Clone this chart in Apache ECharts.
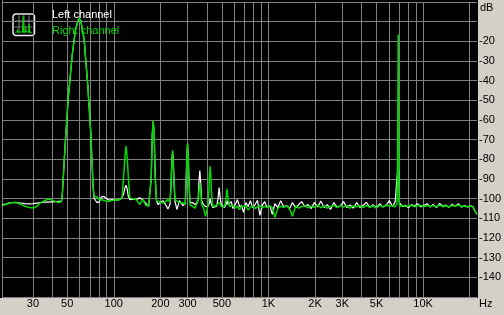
<!DOCTYPE html>
<html>
<head>
<meta charset="utf-8">
<script src="https://cdn.jsdelivr.net/npm/echarts@6/dist/echarts.min.js"></script>
<style>
html,body{margin:0;padding:0;background:#d4d0c8;}
#chart{width:504px;height:315px;}
</style>
</head>
<body>
<div id="chart"></div>
<script>
// Frequencies (Hz) shared by both channels
const freqs = [
  18.94, 20, 21.3, 23, 25, 26.6, 28.5, 30, 31.7, 33.4, 35.5, 37.5, 39.5, 41.7, 44, 45.8,
  46.4, 48.3, 50.7, 53.8, 56.6, 59.5, 61.2, 64.3, 67.7, 71, 73.5, 74.6, 76, 78, 80.5, 83,
  86, 89, 93, 98, 103, 109, 113, 116, 118, 120, 122, 124, 127, 133, 140, 147,
  154, 162, 168, 172, 174.5, 177.5, 180, 182.5, 185.5, 189, 193, 200, 208, 216, 224, 231,
  235, 237.5, 240, 242.5, 245, 249, 256, 266, 280, 290, 294, 297, 300, 303, 306, 311,
  322, 335, 345, 351, 355, 360, 365, 370, 380, 392, 405, 412, 416, 420, 424, 428,
  436, 448, 462, 472, 480, 488, 496, 508, 520, 532, 540, 548, 560, 575, 590, 610,
  630, 650, 670, 690, 715, 740, 765, 790, 820, 850, 880, 910, 945, 980, 1020, 1060,
  1100, 1150, 1200, 1250, 1310, 1370, 1430, 1500, 1570, 1640, 1720, 1800, 1890, 1980, 2080, 2180,
  2290, 2400, 2520, 2650, 2780, 2920, 3060, 3210, 3370, 3540, 3720, 3900, 4100, 4300, 4520, 4740,
  4980, 5230, 5490, 5760, 6050, 6350, 6600, 6780, 6830, 6900, 6970, 7020, 7100, 7400, 7700, 8050,
  8400, 8800, 9200, 9650, 10100, 10600, 11100, 11600, 12200, 12800, 13400, 14000, 14700, 15400, 16100, 16900,
  17700, 18500, 19400, 20300, 21000, 21500, 22300
];
// Left channel (white), dB
const leftDb = [
  -103, -102.8, -102, -102, -102.2, -102.5, -102.6, -102.5, -102.3, -102, -101.8, -101.8, -101.6, -101.5, -101.4, -101.4,
  -99, -75, -49.5, -27.4, -13.8, -8.3, -9.5, -18.9, -41, -66.3, -93.7, -99.5, -100.8, -102, -101.6, -99.2,
  -98.8, -99.8, -100.7, -100.5, -100.8, -100.5, -99.5, -97.5, -94.5, -93.2, -95, -98.5, -100.5, -100.3, -100.5, -99.6,
  -100.5, -102.5, -103.9, -103.5, -90, -67, -60.6, -67, -90, -101, -103, -102, -101, -103, -105.2, -103,
  -92, -80, -76, -80, -92, -101.5, -105.5, -101, -103.5, -102.5, -90, -78, -72.1, -78, -90, -102,
  -102, -103, -104, -101, -92, -85.7, -92, -101, -103, -104, -104, -103, -102, -100, -102, -103,
  -104.5, -104, -104, -100, -94.4, -100, -103, -103, -104.5, -103, -101, -103, -103, -101.5, -105, -103,
  -100.5, -104, -103.5, -107, -102, -104, -101, -104.5, -103, -100.8, -108.5, -103.5, -101.5, -104.5, -103.5, -108,
  -102.5, -104.5, -101, -104, -103.5, -105, -102, -104.6, -103, -101.5, -104, -103, -105, -102, -104.2, -101.2,
  -104.5, -103, -105.5, -102, -104.3, -103.6, -101.5, -104.5, -103.2, -104.8, -102, -104.5, -103.4, -101.8, -104.5, -103,
  -104.6, -102.6, -104.2, -103.5, -101, -104, -101.5, -102, -86, -83.5, -86, -102, -103, -104, -103.4, -104.6,
  -103, -103.8, -102.5, -104.2, -103.5, -102.6, -104.3, -103, -104.5, -102.4, -103.8, -103.2, -104.4, -102.8, -104, -102.6,
  -104.3, -103.5, -104.2, -103.7, -104, -106, -108
];
// Right channel (green), dB
const rightDb = [
  -103.6, -103, -102.2, -101.8, -102.8, -103.9, -104.5, -104.8, -104, -102.2, -101.2, -100.2, -100.6, -101.4, -101.9, -101.6,
  -98.8, -75, -49.5, -27.4, -13.8, -8.3, -9.5, -18.9, -41, -66.3, -93.7, -98.8, -98.8, -99.2, -100.5, -100.5,
  -100.8, -101.2, -101.4, -101, -100.6, -100.5, -99.8, -88, -79, -73.3, -79, -88, -99.6, -100, -100.5, -103,
  -100.5, -103.6, -103.6, -103.9, -90, -67, -60.6, -67, -90, -101, -101.4, -101.8, -102.2, -101.5, -100.5, -101.5,
  -90, -82, -75.4, -82, -90, -100.5, -101, -102, -102.2, -103, -90, -79, -72.1, -79, -90, -103,
  -103.9, -104.8, -105.6, -101, -97, -92, -97, -103, -104.7, -109, -104, -96, -88, -83.5, -88, -96,
  -104, -103.9, -103.5, -102.5, -102, -102.5, -104, -104.7, -104, -100, -95, -100, -104, -104.5, -103.5, -104.8,
  -103.8, -105.5, -104, -104.8, -103.6, -105.8, -104.2, -103.7, -105, -104.2, -103.5, -104.8, -103.9, -104.6, -103.6, -104.5,
  -109.5, -104.9, -103.8, -104.6, -103.5, -105.2, -109, -103.6, -104.8, -104, -103.4, -104.7, -103.8, -104.4, -103.2, -104.6,
  -103.6, -104.8, -104, -103.4, -104.6, -103.5, -104.3, -103.4, -104.8, -103.6, -104.2, -103.5, -104.6, -103.4, -104.4, -103.6,
  -104.8, -103.4, -104.2, -103.2, -103.8, -103.6, -104.2, -102.5, -88, -16.5, -88, -102.5, -104, -103.4, -104, -103.6,
  -103.3, -104.2, -103.6, -103.4, -104.1, -103.5, -104, -103.4, -104.2, -103.2, -104.1, -103.6, -104.3, -103.4, -103.9, -103.2,
  -104, -103.7, -104.2, -103.8, -104.1, -106, -108
];
// Vertical grid frequencies and bottom tick labels
const gridFreqs = [30, 40, 50, 60, 70, 80, 90, 100, 200, 300, 400, 500, 600, 700, 800, 900,
  1000, 2000, 3000, 4000, 5000, 6000, 7000, 8000, 9000, 10000, 20000];
const tickFreqs = [30, 50, 100, 200, 300, 500, 1000, 2000, 3000, 5000, 10000];
const tickLabels = ['30', '50', '100', '200', '300', '500', '1K', '2K', '3K', '5K', '10K'];
const seriesNames = ['Left channel', 'Right channel'];

const GREEN = '#00d800';
const GRID = '#808080';
const FONT = 'Liberation Sans';

const chart = echarts.init(document.getElementById('chart'), null, {renderer: 'canvas'});

const toPairs = (vals) => freqs.map((f, i) => [f, vals[i]]);

const gridLineData = gridFreqs.map(f => {
  const idx = tickFreqs.indexOf(f);
  return {
    xAxis: f,
    label: idx >= 0 ? {show: true, formatter: tickLabels[idx]} : {show: false}
  };
});

chart.setOption({
  animation: false,
  backgroundColor: '#d4d0c8',
  textStyle: {fontFamily: FONT},
  grid: {left: 2, top: 2, right: 26, bottom: 18, containLabel: false},
  legend: {
    orient: 'vertical',
    left: 47, top: 8.5, padding: 0,
    itemWidth: 0, itemHeight: 13, itemGap: 3,
    icon: 'rect',
    selectedMode: false,
    textStyle: {fontSize: 11, fontFamily: FONT, padding: 0},
    data: [
      {name: seriesNames[0], textStyle: {color: '#ffffff'}},
      {name: seriesNames[1], textStyle: {color: GREEN}}
    ]
  },
  xAxis: {
    type: 'log',
    logBase: 10,
    min: 18.94,
    max: 22300,
    axisLine: {show: false},
    axisTick: {show: false},
    axisLabel: {show: false},
    splitLine: {show: false},
    minorSplitLine: {show: false}
  },
  yAxis: {
    type: 'value',
    position: 'right',
    min: -150,
    max: 0,
    interval: 10,
    axisLine: {show: false},
    axisTick: {show: false},
    axisLabel: {
      margin: 2,
      color: '#000',
      fontSize: 11,
      fontFamily: FONT,
      formatter: v => (v <= -20 && v >= -140) ? String(v) : ''
    },
    splitLine: {show: true, lineStyle: {color: GRID, width: 1}}
  },
  graphic: [
    {type: 'rect', z: -100, shape: {x: 0, y: 0, width: 478, height: 298}, style: {fill: '#000'}},
    {type: 'line', z: -50, shape: {x1: 2.5, y1: 0, x2: 2.5, y2: 298}, style: {stroke: GRID, lineWidth: 1}},
    {type: 'text', left: 480, top: 2, style: {text: 'dB', fill: '#000', font: '11px "Liberation Sans"'}},
    {type: 'text', left: 479, top: 298, style: {text: 'Hz', fill: '#000', font: '11px "Liberation Sans"'}},
    {
      type: 'group', left: 12, top: 13,
      children: [
        {type: 'rect', shape: {x: 0.5, y: 0.5, width: 21.5, height: 21.5, r: 3}, style: {fill: '#000', stroke: '#e8e8e8', lineWidth: 1.5}},
        {type: 'line', shape: {x1: 6.5, y1: 2, x2: 6.5, y2: 20}, style: {stroke: GRID, lineWidth: 1}},
        {type: 'line', shape: {x1: 11.5, y1: 2, x2: 11.5, y2: 20}, style: {stroke: GRID, lineWidth: 1}},
        {type: 'line', shape: {x1: 16.5, y1: 2, x2: 16.5, y2: 20}, style: {stroke: GRID, lineWidth: 1}},
        {type: 'line', shape: {x1: 2, y1: 7.5, x2: 20, y2: 7.5}, style: {stroke: GRID, lineWidth: 1}},
        {type: 'line', shape: {x1: 2, y1: 13.5, x2: 20, y2: 13.5}, style: {stroke: GRID, lineWidth: 1}},
        {type: 'polyline', shape: {points: [[3, 19], [4.5, 18.5], [5, 17], [5.5, 18.5], [10, 18.5], [10.7, 2], [11.3, 18.5], [13, 18.5], [13.3, 15.5], [13.8, 18.5], [16.3, 18.5], [16.7, 10.5], [17.2, 18.5], [19.5, 19]]},
          style: {stroke: GREEN, lineWidth: 1.2, fill: null}}
      ]
    }
  ],
  series: [
    {
      name: 'grid',
      type: 'line',
      data: [],
      silent: true,
      z: 1,
      markLine: {
        silent: true,
        symbol: ['none', 'none'],
        z: 1,
        animation: false,
        lineStyle: {color: GRID, width: 1, type: 'solid'},
        label: {position: 'start', distance: 1, color: '#000', fontSize: 11, fontFamily: FONT},
        emphasis: {disabled: true},
        data: gridLineData
      }
    },
    {
      name: seriesNames[0],
      type: 'line',
      data: toPairs(leftDb),
      showSymbol: false,
      symbol: 'none',
      z: 3,
      lineStyle: {color: '#ffffff', width: 1.2},
      itemStyle: {color: '#ffffff'}
    },
    {
      name: seriesNames[1],
      type: 'line',
      data: toPairs(rightDb),
      showSymbol: false,
      symbol: 'none',
      z: 4,
      lineStyle: {color: GREEN, width: 1.5},
      itemStyle: {color: GREEN}
    }
  ]
});
</script>
</body>
</html>
